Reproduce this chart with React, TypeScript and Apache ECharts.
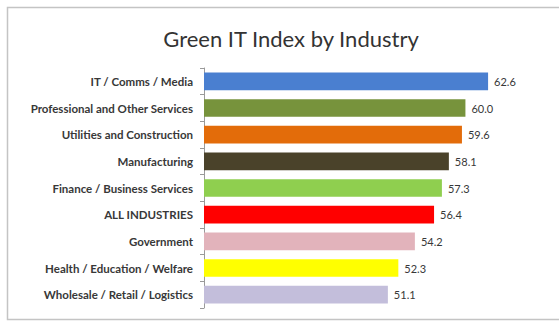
import React, { useEffect, useRef } from "react";
import * as echarts from "echarts";

const categories = [
  "IT / Comms / Media",
  "Professional and Other Services",
  "Utilities and Construction",
  "Manufacturing",
  "Finance / Business Services",
  "ALL INDUSTRIES",
  "Government",
  "Health / Education / Welfare",
  "Wholesale / Retail / Logistics",
];
const values = [62.6, 60.0, 59.6, 58.1, 57.3, 56.4, 54.2, 52.3, 51.1];
const colors = [
  "#4a7fd0",
  "#77933c",
  "#e36c0a",
  "#4a422a",
  "#8fcf4f",
  "#ff0000",
  "#e2b3bb",
  "#ffff00",
  "#c3bedb",
];
const titleText = "Green IT Index by Industry";

export default function App() {
  const ref = useRef<HTMLDivElement>(null);
  useEffect(() => {
    if (!ref.current) return;
    const chart = echarts.init(ref.current, null, { renderer: "svg" });
    chart.setOption({
      animation: false,
      backgroundColor: "#ffffff",
      title: {
        text: titleText,
        left: 286,
        top: 22,
        textAlign: "center",
        textStyle: {
          fontFamily: "Lato",
          fontSize: 22,
          fontWeight: "normal",
          color: "#333333",
        },
      },
      graphic: [
        {
          type: "rect",
          shape: { x: 7.5, y: 7.5, width: 560, height: 312 },
          style: { fill: "none", stroke: "#c4c4c4", lineWidth: 1.5 },
          z: 0,
        },
      ],
      grid: { left: 204, right: 50, top: 68, bottom: 16 },
      xAxis: {
        type: "value",
        min: 30,
        max: 65,
        show: false,
      },
      yAxis: {
        type: "category",
        data: categories,
        inverse: true,
        axisLine: { show: true, lineStyle: { color: "#9a9a9a", width: 1 } },
        axisTick: { show: true, length: 4, lineStyle: { color: "#9a9a9a" } },
        axisLabel: {
          fontFamily: "Lato",
          fontSize: 11.5,
          fontWeight: "bold",
          color: "#383838",
          margin: 11,
        },
      },
      series: [
        {
          type: "bar",
          data: values.map((v, i) => ({ value: v, itemStyle: { color: colors[i] } })),
          barWidth: "66%",
          label: {
            show: true,
            position: "right",
            distance: 6,
            fontFamily: "Lato",
            fontSize: 11,
            color: "#383838",
            formatter: (p: any) => Number(p.value).toFixed(1),
          },
        },
      ],
    });
    return () => chart.dispose();
  }, []);
  return (
    <div
      ref={ref}
      style={{ position: "fixed", left: 0, top: 0, width: 559, height: 324 }}
    />
  );
}
